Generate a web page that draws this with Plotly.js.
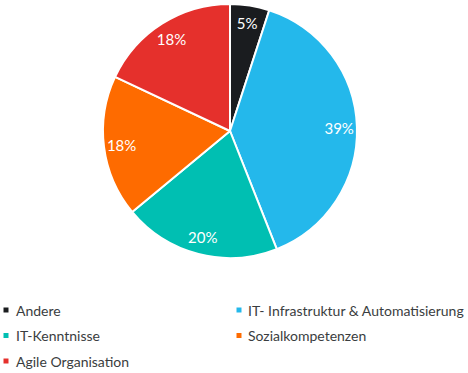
<!DOCTYPE html>
<html><head><meta charset="utf-8">
<script src="https://cdn.plot.ly/plotly-3.0.1.min.js"></script>
<style>html,body{margin:0;padding:0;background:#fff}#chart{width:468px;height:373px}</style>
</head><body><div id="chart"></div>
<script>
const labels = ["Andere", "IT- Infrastruktur & Automatisierung", "IT-Kenntnisse", "Sozialkompetenzen", "Agile Organisation"];
const values = [5, 39, 20, 18, 18];
const colors = ["#1a1c1f", "#24b8eb", "#00bfb2", "#fe6b00", "#e5302c"];

const W = 468, H = 373;
const FONT = "Lato, 'Open Sans', sans-serif";
const dom = {x: [(230 - 127) / W, (230 + 127) / W], y: [(H - 131 - 127) / H, (H - 131 + 127) / H]};

const pie = {
  type: "pie",
  labels: labels,
  values: values,
  sort: false,
  direction: "clockwise",
  rotation: 0,
  marker: {colors: colors, line: {color: "#ffffff", width: 2}},
  textinfo: "none",
  showlegend: false,
  hoverinfo: "label+percent",
  domain: dom
};

// transparent ring carrying the percentage labels near the outer edge
const labelRing = {
  type: "pie",
  labels: labels,
  values: values,
  sort: false,
  direction: "clockwise",
  rotation: 0,
  hole: 0.72,
  marker: {colors: labels.map(() => "rgba(0,0,0,0)"), line: {width: 0}},
  texttemplate: "%{percent:.0%}",
  textposition: "inside",
  insidetextorientation: "horizontal",
  textfont: {color: "#ffffff", size: 15, family: FONT},
  showlegend: false,
  hoverinfo: "skip",
  domain: dom
};

const annotations = [];
const shapes = [];
labels.forEach((lab, i) => {
  const col = i % 2, row = Math.floor(i / 2);
  const mx = col === 0 ? 6 : 239;
  const tx = col === 0 ? 14 : 246;
  const ty = 310 + row * 25.5;
  shapes.push({type: "rect", xref: "paper", yref: "paper",
    x0: (mx - 2.5) / W, x1: (mx + 2.5) / W, y0: (H - ty - 2.5) / H, y1: (H - ty + 2.5) / H,
    fillcolor: colors[i], line: {width: 0}});
  annotations.push({xref: "paper", yref: "paper", x: tx / W, y: (H - ty) / H,
    xanchor: "left", yanchor: "middle", text: lab, showarrow: false,
    font: {family: FONT, size: 14, color: "#3a3d40"}});
});

Plotly.newPlot("chart", [pie, labelRing], {
  width: W, height: H,
  margin: {l: 0, r: 0, t: 0, b: 0},
  paper_bgcolor: "#ffffff",
  showlegend: false,
  uniformtext: {mode: "show", minsize: 15},
  annotations: annotations,
  shapes: shapes
}, {displayModeBar: false, staticPlot: true});
</script></body></html>
